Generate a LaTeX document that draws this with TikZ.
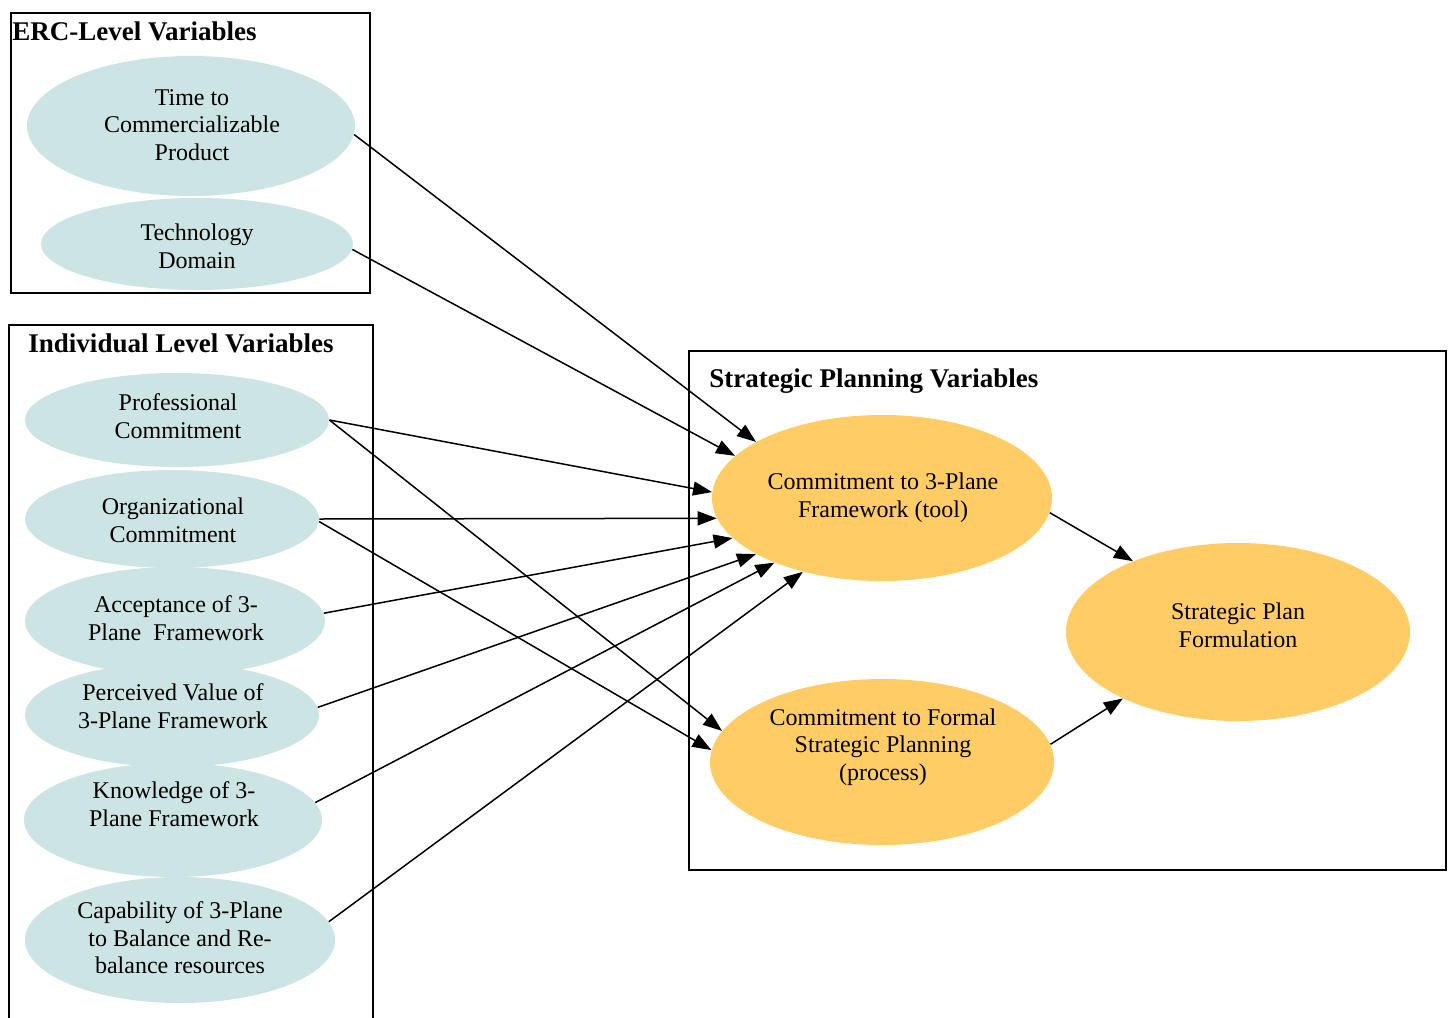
\documentclass[tikz,border=0pt]{standalone}
\usepackage{fontspec}
\setmainfont{Liberation Serif}
\usetikzlibrary{shapes.geometric,arrows.meta}
\definecolor{teal1}{HTML}{CCE4E4}
\definecolor{orng}{HTML}{FFCC66}
\tikzset{
  varell/.style={ellipse, fill=teal1, draw=none, inner sep=0pt},
  planell/.style={ellipse, fill=orng, draw=none, inner sep=0pt},
  txt/.style={align=center, inner sep=0pt, font=\fontsize{12}{13.8}\selectfont},
  ttl/.style={inner sep=0pt, font=\fontsize{13.5}{15}\selectfont\bfseries},
  frame/.style={draw=black, line width=0.8pt},
  conn/.style={draw=black, line width=0.75pt, -{Triangle[length=9.5pt,width=7pt]}}
}
\begin{document}
\begin{tikzpicture}[x=0.5pt,y=-0.5pt]
\useasboundingbox (0,0) rectangle (1450,1017);
% frames
\draw[frame] (11,13) rectangle (370,293);
\draw[frame] (9,1030) -- (9,325) -- (373,325) -- (373,1030);
\draw[frame] (689,351) rectangle (1446,870);
% titles
\node[ttl, anchor=west] (t1) at (12,31) {ERC-Level Variables};
\node[ttl] (t2) at (181,343) {Individual Level Variables};
\node[ttl, anchor=west] (t3) at (709,381) {Strategic Planning Variables};
% ERC ellipses
\node[varell, minimum width=164pt, minimum height=70pt] (time) at (191,126) {};
\node[varell, minimum width=156pt, minimum height=46pt] (tech) at (197,244) {};
% individual ellipses
\node[varell, minimum width=152pt, minimum height=47pt] (prof) at (177,420) {};
\node[varell, minimum width=147pt, minimum height=49pt] (org) at (172,519) {};
\node[varell, minimum width=150pt, minimum height=54pt] (acc) at (175,621) {};
\node[varell, minimum width=147pt, minimum height=52pt] (perc) at (172,715) {};
\node[varell, minimum width=149pt, minimum height=57pt] (know) at (173,820) {};
\node[varell, minimum width=155pt, minimum height=63pt] (cap) at (180,940) {};
% planning ellipses
\node[planell, minimum width=170pt, minimum height=83pt] (ctp) at (882,498) {};
\node[planell, minimum width=172pt, minimum height=83pt] (cfsp) at (882,762) {};
\node[planell, minimum width=172pt, minimum height=89pt] (spf) at (1238,632) {};
% texts
\node[txt] (timet) at (192,125) {Time to\\Commercializable\\Product};
\node[txt] (techt) at (197,246) {Technology\\Domain};
\node[txt] (proft) at (178,416) {Professional\\Commitment};
\node[txt] (orgt) at (173,520) {Organizational\\Commitment};
\node[txt] (acct) at (176,618) {Acceptance of 3-\\Plane~~Framework};
\node[txt] (perct) at (173,706) {Perceived Value of\\3-Plane Framework};
\node[txt] (knowt) at (174,804) {Knowledge of 3-\\Plane Framework};
\node[txt] (capt) at (180,938) {Capability of 3-Plane\\to Balance and Re-\\balance resources};
\node[txt] (ctpt) at (883,498) {Commitment to 3-Plane\\Framework (tool)};
\node[txt] (cfspt) at (883,747) {Commitment to Formal\\Strategic Planning\\(process)};
\node[txt] (spft) at (1238,625) {Strategic Plan\\Formulation};
% connectors
\draw[conn] (time.-3) -- (ctp.156.6);
\draw[conn] (tech.-2) -- (ctp.164.3);
\draw[conn] (prof.0) -- (ctp.178);
\draw[conn] (prof.0) -- (cfsp.169.7);
\draw[conn] (org.0) -- (ctp.187);
\draw[conn] (org.-1) -- (cfsp.176.6);
\draw[conn] (acc.3) -- (ctp.195.7);
\draw[conn] (perc.3.5) -- (ctp.204.7);
\draw[conn] (know.7.5) -- (ctp.211.6);
\draw[conn] (cap.7) -- (ctp.223.9);
\draw[conn] (ctp.-5.5) -- (spf.146);
\draw[conn] (cfsp.6.4) -- (spf.210);
\end{tikzpicture}
\end{document}
